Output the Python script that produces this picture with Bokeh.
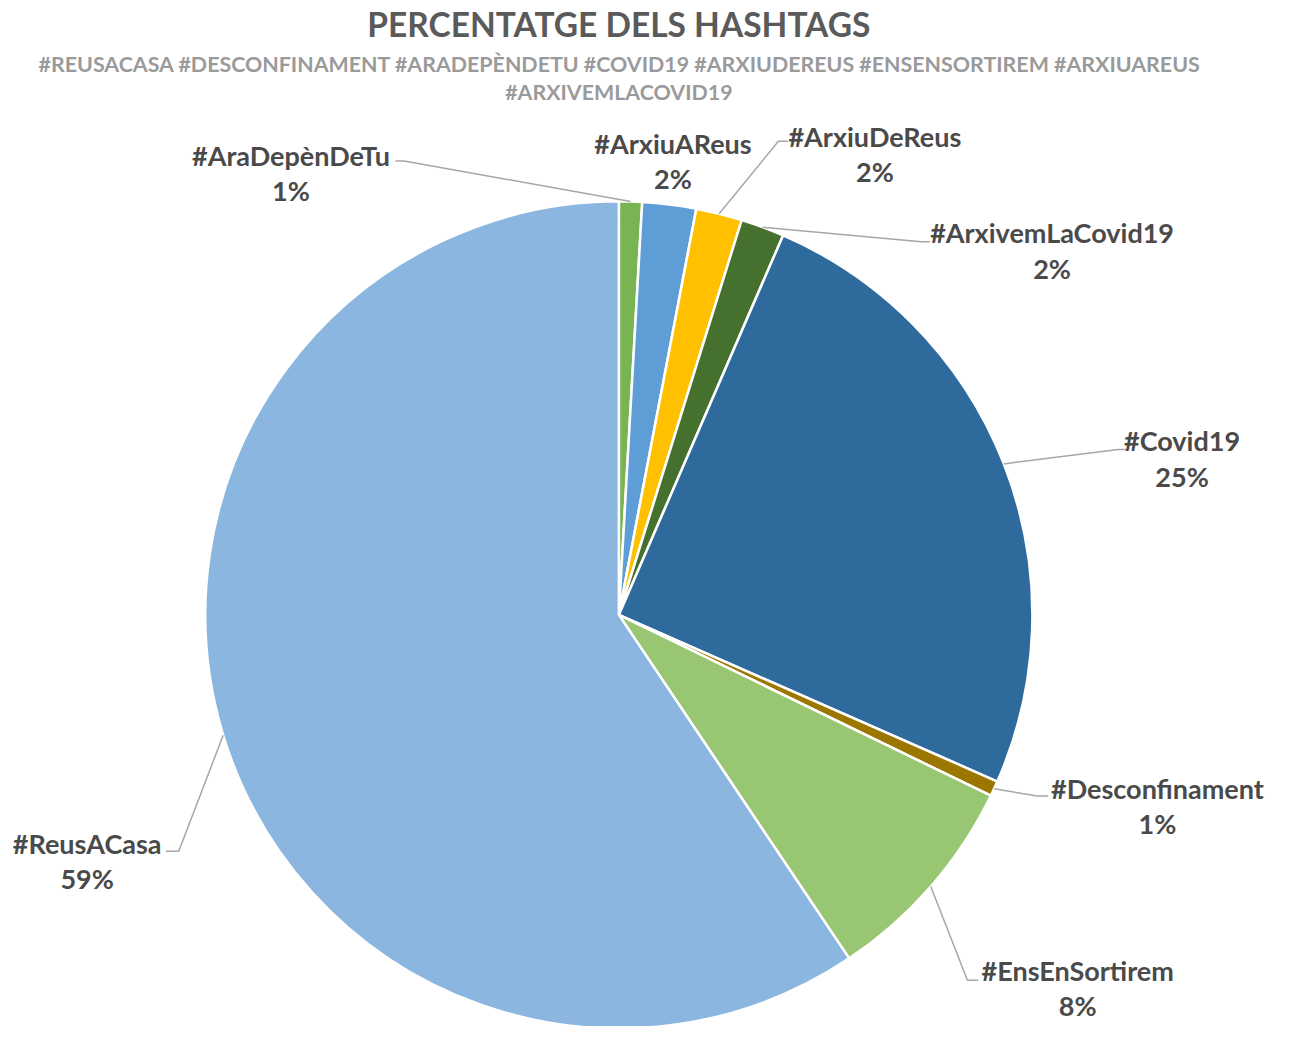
import math
from bokeh.plotting import figure
from bokeh.models import Range1d, ColumnDataSource
from bokeh.core.properties import value
from bokeh.embed import file_html
from bokeh.resources import INLINE

# ---- data ----
hashtags = ["#AraDepènDeTu", "#ArxiuAReus", "#ArxiuDeReus", "#ArxivemLaCovid19",
            "#Covid19", "#Desconfinament", "#EnsEnSortirem", "#ReusACasa"]
shares = [0.9, 2.1, 1.8, 1.7, 25.1, 0.6, 8.4, 59.4]
colors = ["#78B451", "#5F9DD6", "#FFC000", "#46702E",
          "#2F6A9C", "#9C7700", "#98C673", "#8AB6E0"]
title_text = "PERCENTATGE DELS HASHTAGS"
subtitle_lines = ["#REUSACASA #DESCONFINAMENT #ARADEPÈNDETU #COVID19 #ARXIUDEREUS #ENSENSORTIREM #ARXIUAREUS",
                  "#ARXIVEMLACOVID19"]

# ---- layout (reference pixel coordinates) ----
W, H = 1275, 1026
REF_H = 1042
SCALE = H / REF_H
CX, CY, R = 628, 624, 420
label_pos = [(295, 157), (683, 145), (888, 138), (1068, 236),
             (1200, 447), (1175, 800), (1094, 985), (88, 856)]
elbows = [(410, 163, 401), None, (790, 143, 800), (935, 245, 944),
          (1135, 456, 1144), (1053, 808, 1064), (982, 995, 993), (181, 864, 168)]
LINE_GAP = 36

def Y(py):
    return REF_H - py

p = figure(width=W, height=H, output_backend="svg", toolbar_location=None,
           x_range=Range1d(0, W / SCALE), y_range=Range1d(0, REF_H),
           x_axis_location=None, y_axis_location=None, min_border=0,
           outline_line_color=None, background_fill_color="white")
p.grid.visible = False

total = sum(shares)
starts, ends, mids = [], [], []
cum = 0.0
for s in shares:
    a0 = cum / total
    cum += s
    a1 = cum / total
    starts.append(math.pi / 2 - a0 * 2 * math.pi)
    ends.append(math.pi / 2 - a1 * 2 * math.pi)
    mids.append((a0 + a1) / 2 * 2 * math.pi)

src = ColumnDataSource(dict(start=starts, end=ends, color=colors))
p.wedge(x=CX, y=Y(CY), radius=R, start_angle="start", end_angle="end",
        direction="clock", fill_color="color", line_color="white", line_width=2.5,
        source=src)

# leader lines
xs, ys = [], []
for m, e in zip(mids, elbows):
    if e is None:
        continue
    ex0 = CX + R * math.sin(m)
    ey0 = CY - R * math.cos(m)
    xs.append([ex0, e[0], e[2]])
    ys.append([Y(ey0), Y(e[1]), Y(e[1])])
p.multi_line(xs=xs, ys=ys, line_color="#A6A6A6", line_width=1.5)

font = value("Lato")
label_color = "#4A4A4A"
pcts = [f"{int(math.floor(s + 0.5))}%" for s in shares]
p.text(x=[lp[0] for lp in label_pos], y=[Y(lp[1]) for lp in label_pos], text=hashtags,
       text_font=font, text_font_style="bold", text_font_size=value("27px"),
       text_color=label_color, text_align="center", text_baseline="middle")
p.text(x=[lp[0] for lp in label_pos], y=[Y(lp[1] + LINE_GAP) for lp in label_pos], text=pcts,
       text_font=font, text_font_style="bold", text_font_size=value("27px"),
       text_color=label_color, text_align="center", text_baseline="middle")

# title & subtitle
p.text(x=[628], y=[Y(24)], text=[title_text], text_font=font, text_font_style="bold",
       text_font_size=value("33.5px"), text_color="#5A5A5A",
       text_align="center", text_baseline="middle")
p.text(x=[629, 628], y=[Y(64), Y(93)], text=subtitle_lines, text_font=font,
       text_font_style="bold", text_font_size=value("21.4px"), text_color="#9A9A9A",
       text_align="center", text_baseline="middle")

open("out.html", "w").write(file_html(p, INLINE))
